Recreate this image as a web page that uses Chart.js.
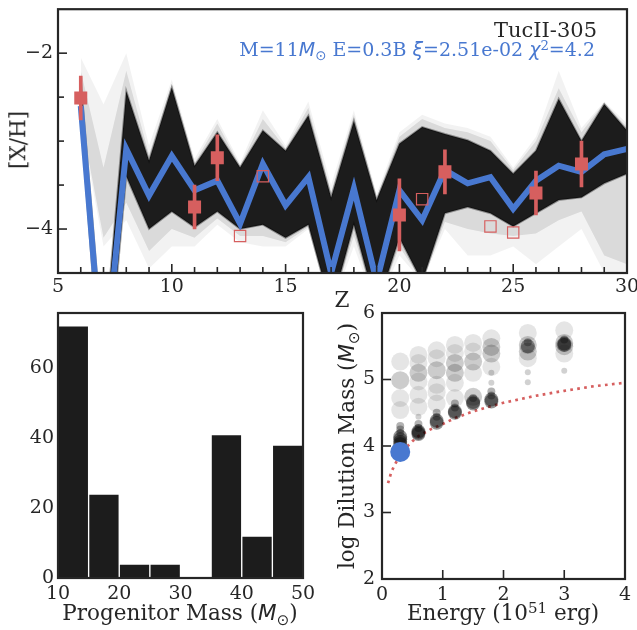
<!DOCTYPE html>
<html lang="en">
<head>
  <meta charset="UTF-8" />
  <title>TucII-305 abundance fit</title>
  <script src="https://cdn.jsdelivr.net/npm/chart.js"></script>
  <style>
    body { margin: 0; background: #fff; }
    #fig { position: relative; width: 637px; height: 630px; background: #fff; overflow: hidden; }
    canvas { position: absolute; }
    .lbl {
      position: absolute; white-space: nowrap; color: #262626;
      font-family: "DejaVu Serif", serif; font-size: 21.5px; line-height: 1;
    }
    .mi { font-family: "DejaVu Sans", sans-serif; font-style: italic; }
    .sub { font-size: 0.7em; position: relative; top: 0.3em; font-family: "DejaVu Sans", sans-serif; }
    .sup { font-size: 0.7em; position: relative; top: -0.45em; }
    .rot { transform: translate(-50%, -50%) rotate(-90deg); }
    .ctr { transform: translate(-50%, -50%); }
    .rgt { transform: translate(-100%, -50%); }
  </style>
</head>
<body>
<div id="fig">
  <canvas id="top" width="637" height="310" style="left:0;top:0"></canvas>
  <canvas id="hist" width="320" height="330" style="left:0;top:300px"></canvas>
  <canvas id="dil" width="317" height="330" style="left:320px;top:300px"></canvas>

  <div class="lbl rgt" style="left:597px;top:30px;font-size:21px">TucII-305</div>
  <div class="lbl rgt" style="left:595px;top:49px;font-size:19px;color:#4878d0">M=11<span class="mi">M</span><span class="sub">⊙</span> E=0.3B <span class="mi">ξ</span>=2.51e-02 <span class="mi">χ</span><span class="sup">2</span>=4.2</div>
  <div class="lbl rot" style="left:18px;top:140px">[X/H]</div>
  <div class="lbl ctr" style="left:342px;top:300px">Z</div>
  <div class="lbl ctr" style="left:180px;top:613px">Progenitor Mass (<span class="mi">M</span><span class="sub">⊙</span>)</div>
  <div class="lbl ctr" style="left:503px;top:613px">Energy (10<span class="sup">51</span> erg)</div>
  <div class="lbl rot" style="left:347px;top:446px">log Dilution Mass (<span class="mi">M</span><span class="sub">⊙</span>)</div>
</div>

<script>
  // ---- top panel: abundance pattern ----
  const Z = [6, 7, 8, 9, 10, 11, 12, 13, 14, 15, 16, 17, 18, 19, 20, 21, 22, 23, 24, 25, 26, 27, 28, 29, 30];
  const bestFit = [-2.6, -5.7, -3.09, -3.62, -3.17, -3.56, -3.45, -3.94, -3.26, -3.73, -3.41, -4.5, -3.54, -4.6, -3.56, -3.9, -3.33, -3.48, -3.41, -3.77, -3.45, -3.28, -3.35, -3.15, -3.09];
  // dense band of model fits (upper / lower edge)
  const coreHigh = [-2.3, -5.4, -2.43, -3.22, -2.39, -3.28, -2.9, -3.3, -2.88, -3.11, -2.71, -3.64, -2.77, -3.67, -3.03, -2.84, -2.92, -2.99, -3.11, -3.37, -3.11, -2.52, -3.0, -2.58, -2.88];
  const coreLow = [-2.7, -6.2, -3.4, -4.0, -3.8, -3.98, -3.8, -4.0, -3.95, -4.1, -3.95, -4.9, -3.95, -4.9, -4.1, -4.6, -3.82, -3.75, -3.82, -3.97, -3.82, -3.67, -3.64, -3.48, -3.37];
  // faint outer spread of model fits
  const outerHigh = [-2.05, -2.58, -2.0, -3.05, -2.3, -3.2, -2.75, -3.25, -2.65, -3.05, -2.55, -3.5, -2.65, -3.6, -2.9, -2.7, -2.8, -2.85, -2.95, -3.3, -2.95, -2.2, -2.85, -2.55, -2.8];
  const outerLow = [-2.8, -4.2, -3.9, -4.45, -4.2, -4.2, -3.95, -4.15, -4.2, -4.2, -4.0, -4.9, -4.2, -4.9, -4.3, -4.6, -4.0, -4.3, -4.3, -4.2, -4.4, -4.2, -4.0, -4.5, -4.6];
  // greyer middle layer of the spread
  const midHigh = [-2.2, -3.3, -2.2, -3.15, -2.35, -3.25, -2.8, -3.28, -2.75, -3.08, -2.62, -3.58, -2.7, -3.64, -2.95, -2.75, -2.85, -2.9, -3.0, -3.33, -3.0, -2.4, -2.9, -2.56, -2.84];
  const midLow = [-2.75, -4.1, -3.7, -4.25, -4.0, -4.1, -3.88, -4.08, -4.08, -4.15, -3.98, -4.9, -4.08, -4.9, -4.2, -4.6, -3.92, -4.0, -4.05, -4.08, -4.05, -3.9, -3.8, -4.3, -4.4];

  const obsZ = [6, 11, 12, 20, 22, 26, 28];
  const obsXH = [-2.51, -3.75, -3.19, -3.84, -3.35, -3.59, -3.26];
  const obsErr = [0.25, 0.25, 0.26, 0.41, 0.25, 0.25, 0.26];
  const limZ = [13, 14, 21, 24, 25];
  const limXH = [-4.08, -3.4, -3.66, -3.97, -4.04];

  const zTicks = [5, 10, 15, 20, 25, 30];
  const xhTicks = [-4, -2];

  // ---- bottom left: progenitor mass histogram ----
  const massEdges = [10, 15, 20, 25, 30, 35, 40, 45, 50];
  const massCounts = [72, 24, 4, 4, 0, 41, 12, 38];
  const massTicks = [10, 20, 30, 40, 50];
  const countTicks = [0, 20, 40, 60];

  // ---- bottom right: dilution mass vs energy ----
  const faintE = [0.3, 0.3, 0.3, 0.6, 0.6, 0.6, 0.6, 0.6, 0.9, 0.9, 0.9, 0.9, 0.9, 1.2, 1.2, 1.2, 1.2, 1.5, 1.5, 1.5, 1.8, 1.8, 2.4, 2.4, 3.0, 3.0];
  const faintM = [5.27, 4.72, 4.54, 5.37, 5.25, 4.97, 4.77, 4.59, 5.44, 5.32, 4.92, 4.81, 4.64, 5.52, 5.4, 4.95, 4.72, 5.55, 5.42, 5.1, 5.62, 5.19, 5.7, 5.32, 5.74, 5.39];
  const midE = [0.3, 0.6, 0.9, 1.2, 1.2, 1.5, 1.5, 1.8, 1.8, 2.4, 2.4, 3.0, 3.0];
  const midM = [4.99, 5.1, 5.14, 5.25, 5.1, 5.27, 4.74, 5.49, 5.39, 5.52, 5.42, 5.55, 5.5];
  // dense clumps: wide base and narrow tail of each clump
  const baseE = [0.3, 0.3, 0.3, 0.3, 0.6, 0.6, 0.6, 0.9, 0.9, 1.2, 1.2, 1.5, 1.5, 1.8, 1.8, 2.4, 3.0, 3.0];
  const baseM = [4.14, 4.1, 4.06, 4.03, 4.22, 4.2, 4.18, 4.38, 4.35, 4.52, 4.5, 4.66, 4.64, 4.7, 4.67, 5.5, 5.54, 5.52];
  const tailE = [0.3, 0.3, 0.3, 0.6, 0.6, 0.9, 0.9, 1.2, 1.2, 1.5, 1.8, 1.8, 2.4, 3.0];
  const tailM = [4.3, 4.25, 4.2, 4.33, 4.27, 4.5, 4.44, 4.64, 4.58, 4.72, 4.82, 4.76, 5.56, 5.6];
  const tinyE = [0.6, 1.8, 1.8, 2.4, 2.4, 3.0];
  const tinyM = [4.44, 5.1, 4.95, 5.11, 4.96, 5.13];
  const bestE = [0.3];
  const bestM = [3.91];
  const limitE = [0.1, 0.15, 0.2, 0.3, 0.4, 0.5, 0.6, 0.8, 1.0, 1.2, 1.5, 1.8, 2.0, 2.5, 3.0, 3.5, 4.0];
  const limitM = [3.44, 3.6, 3.7, 3.87, 3.98, 4.07, 4.15, 4.25, 4.33, 4.42, 4.52, 4.6, 4.65, 4.75, 4.83, 4.9, 4.95];
  const energyTicks = [0, 1, 2, 3, 4];
  const dilTicks = [2, 3, 4, 5, 6];

  const BLUE = '#4878d0';
  const RED = '#d65f5f';
  const INK = '#262626';

  Chart.defaults.font.family = '"DejaVu Serif", serif';
  Chart.defaults.font.size = 19;
  Chart.defaults.color = INK;
  Chart.defaults.animation = false;

  const pairs = (xs, ys) => xs.map((x, i) => ({ x: x, y: ys[i] }));
  const fixTicks = list => scale => { scale.ticks = list.map(v => ({ value: v })); };
  const minus = v => String(v).replace('-', '\u2212');

  // frame + inward tick marks
  const frame = {
    id: 'frame',
    afterDraw(chart, args, opts) {
      const { ctx, chartArea: a, scales } = chart;
      ctx.save();
      ctx.strokeStyle = INK;
      ctx.lineWidth = 1.6;
      const mark = (list, len, isX) => (list || []).forEach(v => {
        ctx.beginPath();
        if (isX) {
          const px = scales.x.getPixelForValue(v);
          ctx.moveTo(px, a.bottom); ctx.lineTo(px, a.bottom - len);
        } else {
          const py = scales.y.getPixelForValue(v);
          ctx.moveTo(a.left, py); ctx.lineTo(a.left + len, py);
        }
        ctx.stroke();
      });
      mark(opts.xMajor, 9, true);
      mark(opts.xMinor, 6, true);
      mark(opts.yMajor, 9, false);
      mark(opts.yMinor, 6, false);
      ctx.lineWidth = 2.2;
      ctx.strokeRect(a.left, a.top, a.right - a.left, a.bottom - a.top);
      ctx.restore();
    }
  };

  function axis(extra) {
    return Object.assign({
      type: 'linear',
      grid: { display: false, drawTicks: false },
      border: { display: false },
      offset: false,
    }, extra);
  }

  const band = (ys, fillTo, color, order, edge) => ({
    data: pairs(Z, ys), pointRadius: 0, order: order, clip: 0,
    borderWidth: edge ? 2 : 0, borderColor: edge || 'rgba(0,0,0,0)',
    fill: fillTo === null ? false : fillTo, backgroundColor: color
  });

  // top panel
  new Chart(document.getElementById('top'), {
    type: 'line',
    data: {
      datasets: [
        band(outerHigh, null, null, 7),
        band(outerLow, 0, 'rgba(0,0,0,0.05)', 7),
        band(midHigh, null, null, 6),
        band(midLow, 2, 'rgba(0,0,0,0.1)', 6),
        band(coreHigh, null, null, 5, 'rgba(0,0,0,0.35)'),
        band(coreLow, 4, '#1c1c1c', 5, 'rgba(0,0,0,0.35)'),
        { data: pairs(Z, bestFit), borderColor: BLUE, borderWidth: 6, pointRadius: 0, fill: false, order: 4, clip: 0 },
        { type: 'bar', data: obsZ.map((z, i) => ({ x: z, y: [obsXH[i] - obsErr[i], obsXH[i] + obsErr[i]] })), backgroundColor: RED, barThickness: 3, order: 3 },
        { type: 'scatter', data: pairs(obsZ, obsXH), pointStyle: 'rect', pointRadius: 9.2, backgroundColor: RED, borderWidth: 0, order: 2 },
        { type: 'scatter', data: pairs(limZ, limXH), pointStyle: 'rect', pointRadius: 8, backgroundColor: 'rgba(0,0,0,0)', borderColor: RED, borderWidth: 1.2, order: 1 }
      ]
    },
    options: {
      responsive: false,
      layout: { padding: { top: 7, right: 10, left: 0, bottom: 0 } },
      plugins: {
        legend: { display: false }, tooltip: { enabled: false },
        frame: { xMajor: [10, 15, 20, 25], xMinor: Z.filter(z => z % 5 !== 0), yMajor: xhTicks, yMinor: [-3.5, -3, -2.5] }
      },
      elements: { line: { tension: 0 } },
      scales: {
        x: axis({
          min: 5, max: 30,
          afterBuildTicks: fixTicks(zTicks),
          ticks: { autoSkip: false, maxRotation: 0, padding: 3 },
          afterFit(s) { s.height = 37; s.paddingLeft = 0; s.paddingRight = 0; }
        }),
        y: axis({
          min: -4.5, max: -1.5,
          afterBuildTicks: fixTicks(xhTicks),
          ticks: { callback: minus, padding: 5 },
          afterFit(s) { s.width = 58; s.paddingTop = 0; s.paddingBottom = 0; }
        })
      }
    },
    plugins: [frame]
  });

  // histogram of progenitor masses
  new Chart(document.getElementById('hist'), {
    type: 'bar',
    data: {
      datasets: [{
        data: massCounts.map((c, i) => ({ x: (massEdges[i] + massEdges[i + 1]) / 2, y: c })),
        backgroundColor: '#1c1c1c',
        borderColor: '#ffffff',
        borderWidth: 1,
        barPercentage: 1,
        categoryPercentage: 1
      }]
    },
    options: {
      responsive: false,
      layout: { padding: { top: 13, right: 17, left: 0, bottom: 0 } },
      plugins: { legend: { display: false }, tooltip: { enabled: false }, frame: {} },
      scales: {
        x: axis({
          min: 10, max: 50,
          afterBuildTicks: fixTicks(massTicks),
          ticks: { autoSkip: false, maxRotation: 0, padding: 5 },
          afterFit(s) { s.height = 52; s.paddingLeft = 0; s.paddingRight = 0; }
        }),
        y: axis({
          min: 0, max: 75.7,
          afterBuildTicks: fixTicks(countTicks),
          ticks: { padding: 4 },
          afterFit(s) { s.width = 58; s.paddingTop = 0; s.paddingBottom = 0; }
        })
      }
    },
    plugins: [frame]
  });

  // dilution mass vs explosion energy
  const blob = (xs, ys, color, r) => ({
    data: pairs(xs, ys), backgroundColor: color, borderWidth: 0, pointRadius: r, order: 2
  });
  new Chart(document.getElementById('dil'), {
    type: 'scatter',
    data: {
      datasets: [
        { data: pairs(limitE, limitM), showLine: true, borderColor: RED, borderWidth: 2.7, borderDash: [2.7, 4.3], pointRadius: 0, fill: false, order: 3 },
        blob(faintE, faintM, 'rgba(0,0,0,0.1)', 9),
        blob(midE, midM, 'rgba(0,0,0,0.2)', 9),
        blob(tinyE, tinyM, 'rgba(0,0,0,0.18)', 3),
        blob(tailE, tailM, 'rgba(0,0,0,0.3)', 4),
        blob(baseE, baseM, 'rgba(0,0,0,0.42)', 7),
        { data: pairs(bestE, bestM), backgroundColor: BLUE, borderWidth: 0, pointRadius: 10, order: 0 }
      ]
    },
    options: {
      responsive: false,
      layout: { padding: { top: 13, right: 12, left: 0, bottom: 0 } },
      plugins: {
        legend: { display: false }, tooltip: { enabled: false },
        frame: { xMajor: [1, 2, 3], yMajor: [3, 4, 5] }
      },
      scales: {
        x: axis({
          min: 0, max: 4,
          afterBuildTicks: fixTicks(energyTicks),
          ticks: { autoSkip: false, maxRotation: 0, padding: 5 },
          afterFit(s) { s.height = 51; s.paddingLeft = 0; s.paddingRight = 0; }
        }),
        y: axis({
          min: 2, max: 6,
          afterBuildTicks: fixTicks(dilTicks),
          ticks: { padding: 7 },
          afterFit(s) { s.width = 62; s.paddingTop = 0; s.paddingBottom = 0; }
        })
      }
    },
    plugins: [frame]
  });
</script>
</body>
</html>
